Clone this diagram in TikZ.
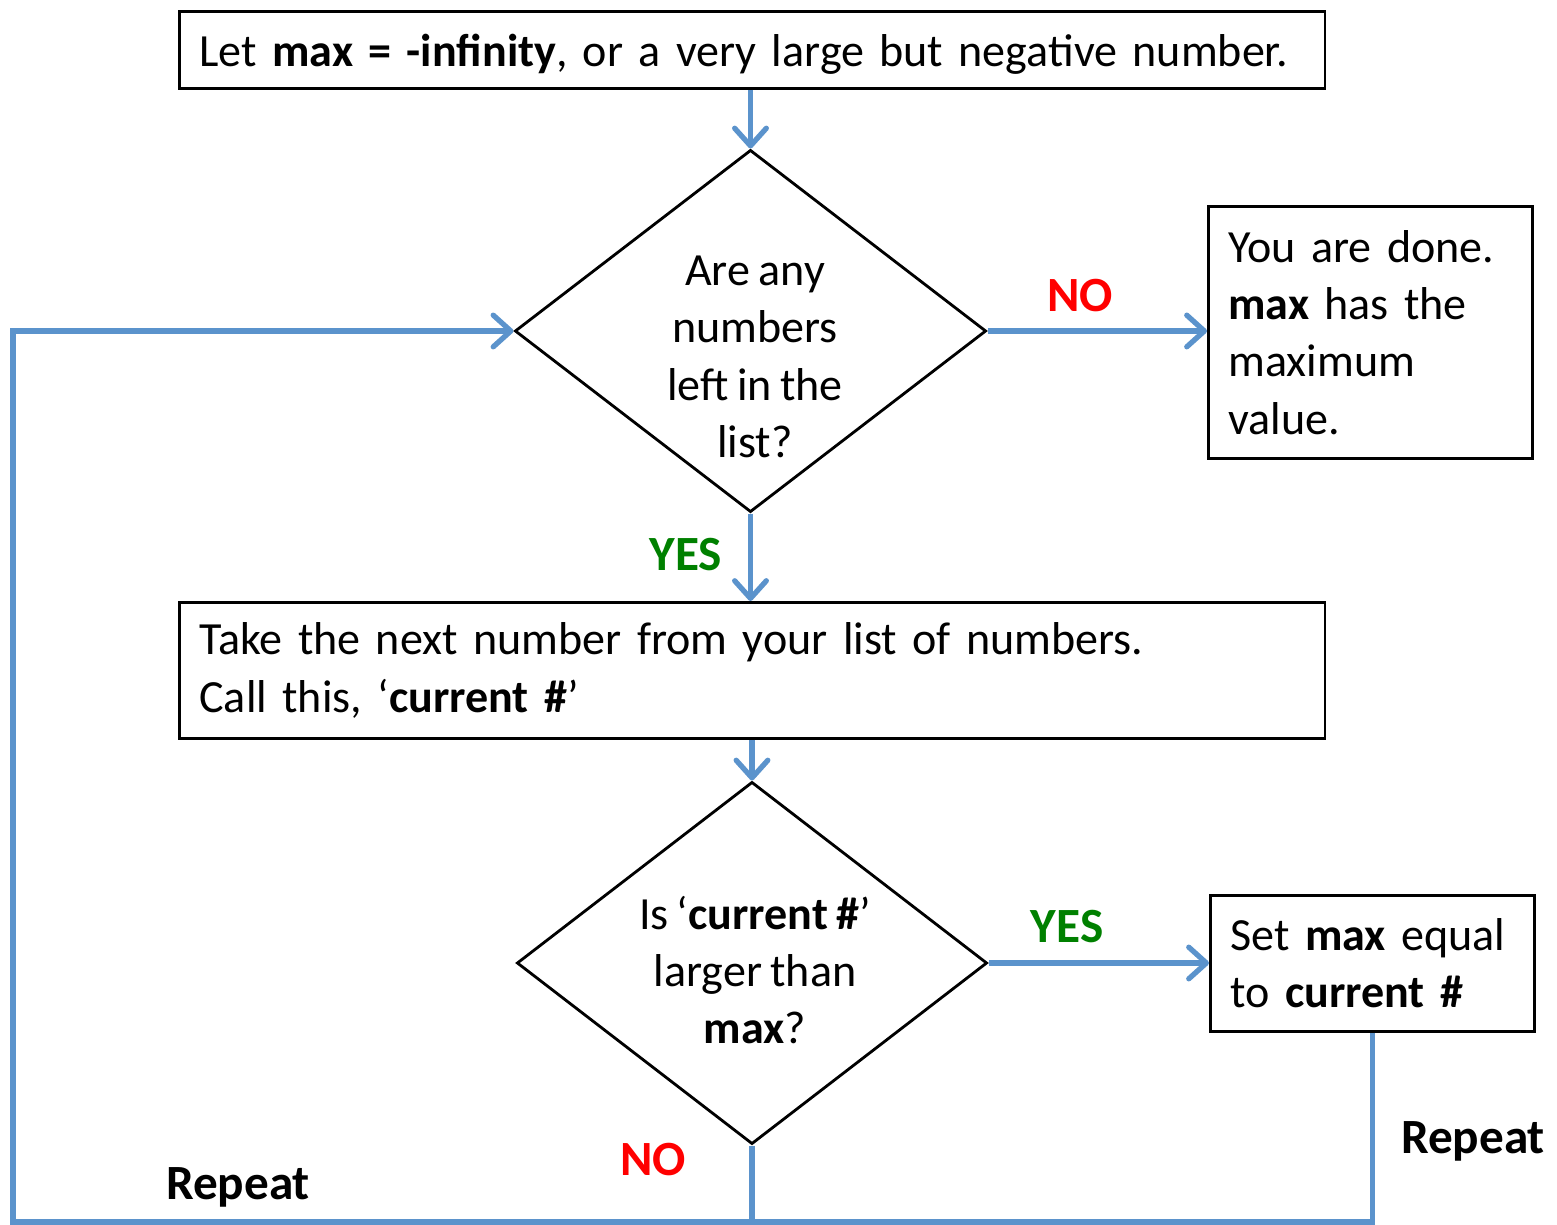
\documentclass[tikz,border=0pt]{standalone}
\usepackage{fontspec}
\setmainfont[WordSpace=0.8]{Carlito}
\usetikzlibrary{arrows.meta,shapes.geometric}
\definecolor{flowblue}{RGB}{91,147,204}
\definecolor{yesgreen}{RGB}{0,128,0}
\definecolor{nored}{RGB}{255,0,0}

\begin{document}
\begin{tikzpicture}[x=0.01cm,y=-0.01cm,font=\fontsize{13.1}{16.3}\selectfont,
		box/.style={draw,line width=0.8pt,inner xsep=0.2cm,align=left,anchor=north west},
		decision/.style={draw,diamond,line width=0.8pt,inner sep=0pt},
		flow/.style={draw=flowblue,line width=1.5pt,-{Straight Barb[length=5pt,width=9pt,round]}},
		yes/.style={text=yesgreen,font=\fontsize{14}{16}\selectfont\bfseries},
		no/.style={text=nored,font=\fontsize{14}{16}\selectfont\bfseries},
		repeat/.style={font=\fontsize{14}{16}\selectfont\bfseries}]
			\useasboundingbox (0,0) rectangle (1557,1225);
			\node[box,minimum width=11.45cm,minimum height=0.77cm,text width=11.05cm,text depth=0pt] (init) at (178,10) {Let \textbf{max = -infinity}, or a very large but negative number.};
			\node[decision,minimum width=4.71cm,minimum height=3.62cm] (q1) at (750.5,331) {};
			\node[align=center] (q1text) at (755,357) {Are any\\ numbers\\ left in the\\ list?};
			\node[box,minimum width=3.24cm,minimum height=2.52cm,text width=2.84cm] (done) at (1207,205) {You are done.\\ \textbf{max} has the\\ maximum\\ value.};
			\node[box,minimum width=11.45cm,minimum height=1.36cm,text width=11.05cm] (take) at (178,601) {Take the next number from your list of numbers.\\ Call this, `\textbf{current \#}'};
			\node[decision,minimum width=4.70cm,minimum height=3.62cm] (q2) at (752,963) {};
			\node[align=center] (q2text) at (755,970) {Is `\textbf{current \#}'\\ larger than\\ \textbf{max}?};
			\node[box,minimum width=3.24cm,minimum height=1.36cm,text width=2.84cm] (setmax) at (1209,894) {Set \textbf{max} equal\\ to \textbf{current \#}};
			\coordinate (loopcorner) at (13,1222);

			\node[no] (no1) at (1080,296) {NO};
			\node[yes] (yes1) at (686,555) {YES};
			\node[yes] (yes2) at (1067,927) {YES};
			\node[no] (no2) at (653,1160) {NO};
			\node[repeat] (rep1) at (238,1187) {Repeat};
			\node[repeat] (rep2) at (1473,1141) {Repeat};

			\path (init.south -| q1.north) edge[flow] (q1.north)
						 (q1.east) edge[flow] (q1.east -| done.west)
						 (q1.south) edge[flow] (take.north -| q1.south)
						 (take.south -| q2.north) edge[flow] (q2.north)
						 (q2.east) edge[flow] (q2.east -| setmax.west);
			\draw[flow] (setmax.south) |- (loopcorner) |- (q1.west);
			\draw[flow,-] (q2.south) -- (q2.south |- loopcorner);
		\end{tikzpicture}
\end{document}
